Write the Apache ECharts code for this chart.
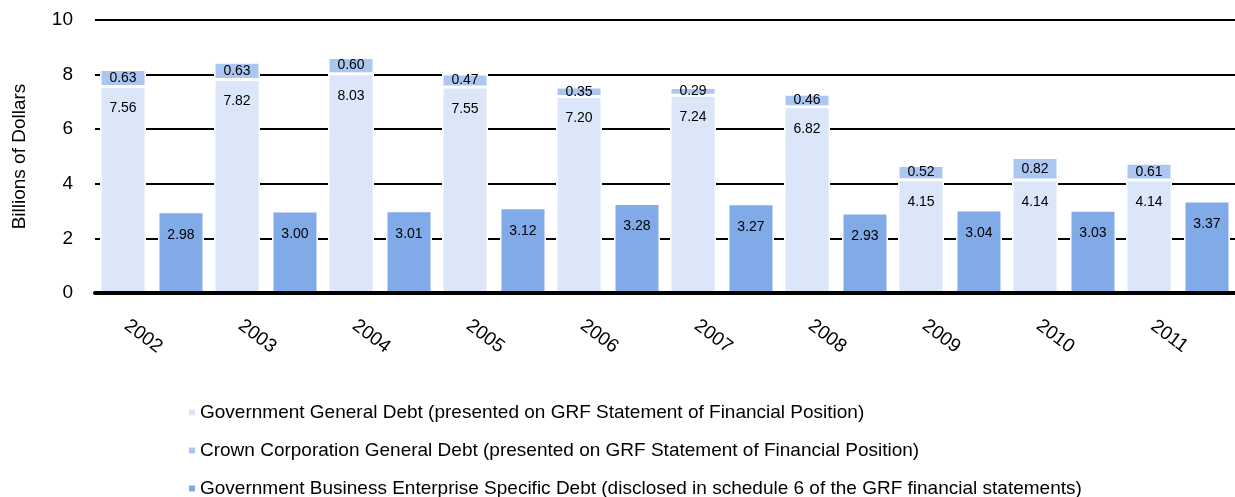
<!DOCTYPE html>
<html>
<head>
<meta charset="utf-8">
<script src="https://cdn.jsdelivr.net/npm/echarts@6/dist/echarts.min.js"></script>
<style>
    html, body { margin: 0; padding: 0; background: #fff; }
    #container { width: 1235px; height: 497px; }
</style>
</head>
<body>
<div id="container"></div>
<script type="text/javascript">
    var years = ['2002', '2003', '2004', '2005', '2006', '2007', '2008', '2009', '2010', '2011'];
    var generalDebt = [7.56, 7.82, 8.03, 7.55, 7.20, 7.24, 6.82, 4.15, 4.14, 4.14];
    var crownDebt = [0.63, 0.63, 0.60, 0.47, 0.35, 0.29, 0.46, 0.52, 0.82, 0.61];
    var gbeDebt = [2.98, 3.00, 3.01, 3.12, 3.28, 3.27, 2.93, 3.04, 3.03, 3.37];
    var seriesNames = [
        'Government General Debt (presented on GRF Statement of Financial Position)',
        'Crown Corporation General Debt (presented on GRF Statement of Financial Position)',
        'Government Business Enterprise Specific Debt (disclosed in schedule 6 of the GRF financial statements)'
    ];
    var yTicks = [0, 2, 4, 6, 8, 10];

    var font = '"Liberation Sans", Arial, sans-serif';
    var myChart = echarts.init(document.getElementById('container'));

    function fmt(p) {
        return p.value.toFixed(2);
    }

    var option = {
        backgroundColor: '#fff',
        animation: false,
        textStyle: { fontFamily: font },
        legend: {
            orient: 'vertical',
            left: 187,
            top: 403,
            height: 200,
            itemGap: 19,
            itemWidth: 8,
            itemHeight: 8,
            icon: 'rect',
            padding: 0,
            textStyle: { fontSize: 19, color: '#000', fontFamily: font, padding: [0, 0, 0, -1] },
            data: seriesNames
        },
        grid: { left: 95, right: -10, top: 20, bottom: 204, containLabel: false },
        xAxis: {
            type: 'category',
            data: years,
            z: 5,
            axisLine: { lineStyle: { color: '#000', width: 4 } },
            axisTick: { show: false },
            axisLabel: {
                rotate: -37,
                margin: 50,
                align: 'center',
                verticalAlign: 'middle',
                fontSize: 19,
                color: '#000',
                fontFamily: font,
                padding: [0, 22, 0, 0]
            }
        },
        yAxis: {
            type: 'value',
            min: yTicks[0],
            max: yTicks[yTicks.length - 1],
            interval: 2,
            name: 'Billions of Dollars',
            nameLocation: 'middle',
            nameGap: 66,
            nameTextStyle: { fontSize: 19, color: '#000', fontFamily: font },
            axisLine: { show: false },
            axisTick: { show: false },
            axisLabel: { fontSize: 19, color: '#000', margin: 22, fontFamily: font },
            splitLine: { lineStyle: { color: '#000', width: 2 } }
        },
        series: [{
            name: seriesNames[0],
            type: 'bar',
            stack: 'gen',
            barWidth: 46,
            barGap: '26%',
            data: generalDebt,
            itemStyle: { color: '#dbe6f8', borderColor: '#fff', borderWidth: 1.5 },
            label: {
                show: true, position: 'insideTop', distance: 15,
                fontSize: 14, color: '#000', formatter: fmt
            }
        }, {
            name: seriesNames[1],
            type: 'bar',
            stack: 'gen',
            barWidth: 46,
            data: crownDebt,
            itemStyle: { color: '#abc6f0', borderColor: '#fff', borderWidth: 1.5 },
            label: {
                show: true, position: 'inside',
                fontSize: 14, color: '#000', formatter: fmt
            }
        }, {
            name: seriesNames[2],
            type: 'bar',
            barWidth: 46,
            barGap: '26%',
            data: gbeDebt,
            itemStyle: { color: '#80abe8', borderColor: '#fff', borderWidth: 1.5 },
            label: {
                show: true, position: 'insideTop', distance: 16,
                fontSize: 14, color: '#000', formatter: fmt
            }
        }]
    };

    myChart.setOption(option);
</script>
</body>
</html>
